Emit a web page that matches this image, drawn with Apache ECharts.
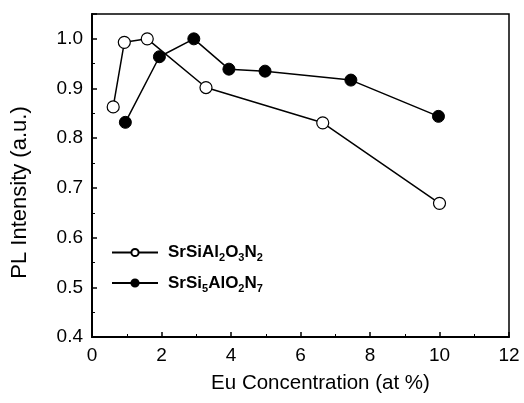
<!DOCTYPE html>
<html>
<head>
	<meta charset="utf-8">
	<title>PL Intensity</title>
	<script src="https://cdn.jsdelivr.net/npm/echarts@6/dist/echarts.min.js"></script>
	<style>
		html, body { margin: 0; padding: 0; background: #fff; }
		#main { width: 524px; height: 403px; }
	</style>
</head>
<body>
	<div id="main"></div>
	<script>
		// 数据
		var nameA = 'SrSiAl{s|2}O{s|3}N{s|2}';
		var nameB = 'SrSi{s|5}AlO{s|2}N{s|7}';
		var xA = [0.61, 0.93, 1.59, 3.28, 6.64, 10];
		var yA = [0.863, 0.993, 1.0, 0.902, 0.831, 0.669];
		var xB = [0.96, 1.94, 2.93, 3.94, 4.98, 7.45, 9.97];
		var yB = [0.832, 0.964, 1.0, 0.939, 0.935, 0.917, 0.844];

		function pairs(xs, ys) {
			return xs.map(function (x, i) { return [x, ys[i]]; });
		}

		var font = 'Liberation Sans';
		var myChart = echarts.init(document.getElementById('main'));
		myChart.setOption({
			backgroundColor: '#fff',
			animation: false,
			grid: {
				left: 92, right: 15, top: 14, bottom: 66,
				show: true, borderColor: '#000', borderWidth: 1.5
			},
			legend: {
				orient: 'vertical',
				left: 106,
				top: 239,
				itemWidth: 46,
				itemHeight: 9,
				itemGap: 11,
				data: [nameA, nameB],
				textStyle: {
					fontFamily: font, fontSize: 17, fontWeight: 'bold', color: '#000',
					padding: [0, 0, 0, 5],
					rich: {
						s: { fontFamily: font, fontSize: 11, fontWeight: 'bold', padding: [11, 0, 0, 0] }
					}
				}
			},
			xAxis: {
				type: 'value',
				min: 0, max: 12, interval: 2,
				name: 'Eu Concentration (at %)',
				nameLocation: 'middle',
				nameGap: 36,
				nameTextStyle: { fontFamily: font, fontSize: 20.5, color: '#000', padding: [0, 0, 0, 40] },
				axisLine: { lineStyle: { color: '#000', width: 2 } },
				axisTick: { inside: true, length: 5, lineStyle: { color: '#000', width: 1.5 } },
				minorTick: { show: true, splitNumber: 2, length: 3, lineStyle: { color: '#000' } },
				axisLabel: { fontFamily: font, fontSize: 19, color: '#000', margin: 9 },
				splitLine: { show: false }
			},
			yAxis: {
				type: 'value',
				min: 0.4, max: 1.05, interval: 0.1,
				name: 'PL Intensity (a.u.)',
				nameLocation: 'middle',
				nameGap: 61,
				nameTextStyle: { fontFamily: font, fontSize: 22, color: '#000', padding: [0, 34, 0, 0] },
				axisLine: { lineStyle: { color: '#000', width: 2 } },
				axisTick: { inside: true, length: 5, lineStyle: { color: '#000', width: 1.5 } },
				minorTick: { show: true, splitNumber: 2, length: 3, lineStyle: { color: '#000' } },
				axisLabel: {
					fontFamily: font, fontSize: 19, color: '#000', margin: 9,
					showMaxLabel: false,
					formatter: function (v) { return v.toFixed(1); }
				},
				splitLine: { show: false }
			},
			series: [
				{
					name: nameA,
					type: 'line',
					data: pairs(xA, yA),
					symbol: 'circle',
					symbolSize: 12,
					itemStyle: { color: '#fff', borderColor: '#000', borderWidth: 1.2 },
					lineStyle: { color: '#000', width: 1.5 }
				},
				{
					name: nameB,
					type: 'line',
					data: pairs(xB, yB),
					symbol: 'circle',
					symbolSize: 12,
					itemStyle: { color: '#000', borderColor: '#000', borderWidth: 1 },
					lineStyle: { color: '#000', width: 1.5 }
				}
			]
		});
	</script>
</body>
</html>
